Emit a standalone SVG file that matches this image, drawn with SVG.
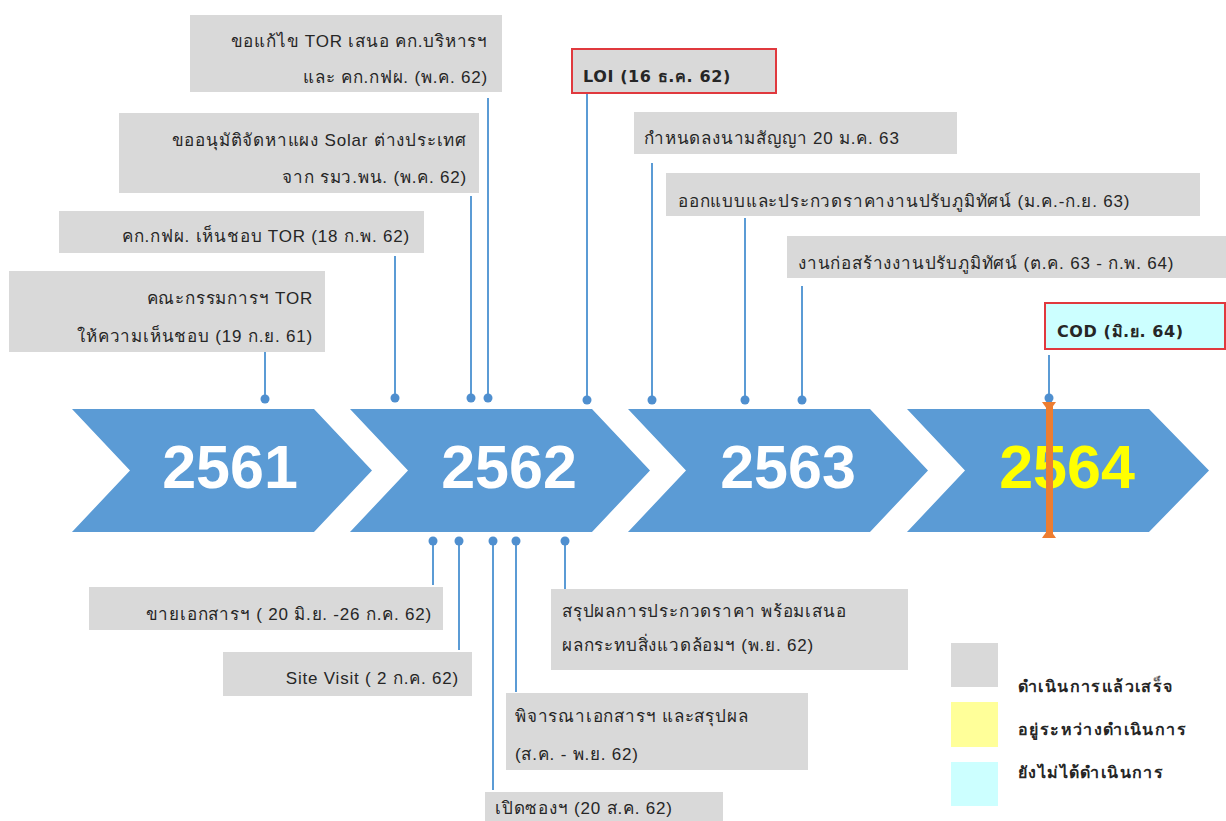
<svg xmlns="http://www.w3.org/2000/svg" width="1226" height="821" viewBox="0 0 1226 821">
<defs>
<style>
.box{fill:#D9D9D9}
.hl{stroke:#E0393E;stroke-width:2}
.t{font-family:Tahoma,"Liberation Sans","Noto Sans",sans-serif;font-size:17px;letter-spacing:0.8px;fill:#262626}
.b{font-family:"DejaVu Sans","Liberation Sans",sans-serif;font-weight:bold;font-size:16px;letter-spacing:0.6px}
.lg{font-family:Tahoma,"Liberation Sans",sans-serif;font-weight:bold;font-size:16px;letter-spacing:1.4px}
.r{text-anchor:end}
.yr{font-family:"Liberation Sans",Arial,sans-serif;font-size:61px;font-weight:bold;fill:#FFFFFF;text-anchor:middle}
.chev{fill:#5B9BD5}
.con line{stroke:#5B9BD5;stroke-width:2}
.con circle{fill:#4F8FCF}
</style>
</defs>
<rect width="1226" height="821" fill="#FFFFFF"/>

<g id="timeline">
<polygon class="chev" points="72,409 314,409 372,470.5 314,532 72,532 130,470.5"/>
<polygon class="chev" points="350,409 592,409 650,470.5 592,532 350,532 408,470.5"/>
<polygon class="chev" points="628,409 870,409 928,470.5 870,532 628,532 686,470.5"/>
<polygon class="chev" points="907,409 1149,409 1209,470.5 1149,532 907,532 965,470.5"/>
<text class="yr" x="230" y="488">2561</text>
<text class="yr" x="509" y="488">2562</text>
<text class="yr" x="788" y="488">2563</text>
<text class="yr" x="1067" y="488" style="fill:#FFFF00">2564</text>
</g>

<g id="connectors" class="con">
<line x1="265" y1="352" x2="265" y2="399"/><circle cx="265" cy="399" r="4.5"/>
<line x1="395" y1="256" x2="395" y2="398"/><circle cx="395" cy="398" r="4.5"/>
<line x1="471" y1="196" x2="471" y2="398"/><circle cx="471" cy="398" r="4.5"/>
<line x1="488" y1="98" x2="488" y2="398"/><circle cx="488" cy="398" r="4.5"/>
<line x1="587" y1="93" x2="587" y2="400"/><circle cx="587" cy="400" r="4.5"/>
<line x1="652" y1="163" x2="652" y2="400"/><circle cx="652" cy="400" r="4.5"/>
<line x1="745" y1="218" x2="745" y2="400"/><circle cx="745" cy="400" r="4.5"/>
<line x1="802" y1="286" x2="802" y2="400"/><circle cx="802" cy="400" r="4.5"/>
<line x1="1049" y1="355" x2="1049" y2="398"/><circle cx="1049" cy="398" r="4.5"/>
<line x1="433" y1="541" x2="433" y2="585"/><circle cx="433" cy="541" r="4.5"/>
<line x1="459" y1="541" x2="459" y2="650"/><circle cx="459" cy="541" r="4.5"/>
<line x1="493" y1="541" x2="493" y2="790"/><circle cx="493" cy="541" r="4.5"/>
<line x1="516" y1="541" x2="516" y2="692"/><circle cx="516" cy="541" r="4.5"/>
<line x1="565" y1="541" x2="565" y2="589"/><circle cx="565" cy="541" r="4.5"/>
</g>

<g id="cod-marker">
<rect x="1046" y="404" width="7" height="132" fill="#ED7D31"/>
<polygon points="1042,402 1056,402 1049,412" fill="#ED7D31"/>
<polygon points="1042,538 1056,538 1049,528" fill="#ED7D31"/>
</g>

<g id="n-tor-edit">
<rect class="box" x="190" y="15" width="312" height="77"/>
<text class="t r" x="488" y="47">ขอแก้ไข TOR เสนอ คก.บริหารฯ</text>
<text class="t r" x="488" y="83">และ คก.กฟผ. (พ.ค. 62)</text>
</g>
<g id="n-solar">
<rect class="box" x="119" y="113" width="360" height="80"/>
<text class="t r" x="467" y="146">ขออนุมัติจัดหาแผง Solar ต่างประเทศ</text>
<text class="t r" x="467" y="183">จาก รมว.พน. (พ.ค. 62)</text>
</g>
<g id="n-egat-tor">
<rect class="box" x="59" y="211" width="365" height="42"/>
<text class="t r" x="410" y="242">คก.กฟผ. เห็นชอบ TOR (18 ก.พ. 62)</text>
</g>
<g id="n-committee">
<rect class="box" x="9" y="271" width="316" height="81"/>
<text class="t r" x="313" y="304">คณะกรรมการฯ TOR</text>
<text class="t r" x="313" y="342">ให้ความเห็นชอบ (19 ก.ย. 61)</text>
</g>
<g id="n-loi">
<rect class="box hl" x="572" y="49" width="204" height="44"/>
<text class="t b" x="583" y="82">LOI (16 ธ.ค. 62)</text>
</g>
<g id="n-contract">
<rect class="box" x="634" y="112" width="323" height="42"/>
<text class="t" x="644" y="144">กำหนดลงนามสัญญา 20 ม.ค. 63</text>
</g>
<g id="n-design">
<rect class="box" x="666" y="173" width="534" height="43"/>
<text class="t" x="678" y="207">ออกแบบและประกวดราคางานปรับภูมิทัศน์ (ม.ค.-ก.ย. 63)</text>
</g>
<g id="n-construct">
<rect class="box" x="787" y="236" width="439" height="42"/>
<text class="t" x="798" y="269">งานก่อสร้างงานปรับภูมิทัศน์ (ต.ค. 63 - ก.พ. 64)</text>
</g>
<g id="n-cod">
<rect x="1045" y="303" width="180" height="46" fill="#CCFFFF" class="hl"/>
<text class="t b" x="1057" y="337">COD (มิ.ย. 64)</text>
</g>
<g id="n-sale">
<rect class="box" x="89" y="587" width="354" height="43"/>
<text class="t r" x="432" y="620">ขายเอกสารฯ ( 20 มิ.ย. -26 ก.ค. 62)</text>
</g>
<g id="n-site">
<rect class="box" x="223" y="652" width="249" height="44"/>
<text class="t r" x="459" y="684">Site Visit ( 2 ก.ค. 62)</text>
</g>
<g id="n-summary">
<rect class="box" x="551" y="589" width="357" height="81"/>
<text class="t" x="562" y="617">สรุปผลการประกวดราคา พร้อมเสนอ</text>
<text class="t" x="562" y="651">ผลกระทบสิ่งแวดล้อมฯ (พ.ย. 62)</text>
</g>
<g id="n-review">
<rect class="box" x="506" y="693" width="302" height="77"/>
<text class="t" x="515" y="722">พิจารณาเอกสารฯ และสรุปผล</text>
<text class="t" x="515" y="760">(ส.ค. - พ.ย. 62)</text>
</g>
<g id="n-open">
<rect class="box" x="485" y="792" width="238" height="35"/>
<text class="t" x="495" y="814">เปิดซองฯ (20 ส.ค. 62)</text>
</g>

<g id="legend">
<rect x="951" y="643" width="47" height="44" fill="#D9D9D9"/>
<rect x="951" y="702" width="47" height="45" fill="#FFFF99"/>
<rect x="951" y="762" width="47" height="44" fill="#CCFFFF"/>
<text class="t lg" x="1018" y="692">ดำเนินการแล้วเสร็จ</text>
<text class="t lg" x="1018" y="735">อยู่ระหว่างดำเนินการ</text>
<text class="t lg" x="1018" y="778">ยังไม่ได้ดำเนินการ</text>
</g>
</svg>
